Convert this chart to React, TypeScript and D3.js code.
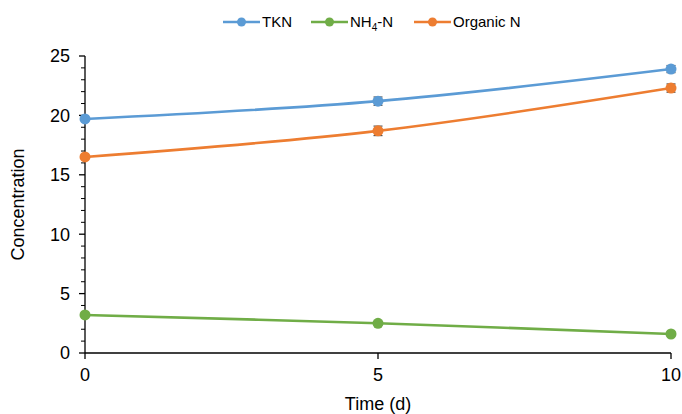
import React from "react";
import * as d3 from "d3";

const days = [0, 5, 10];
const tkn = [19.7, 21.2, 23.9];
const nh4 = [3.2, 2.5, 1.6];
const organicN = [16.5, 18.7, 22.3];
const tknErr = [0, 0.35, 0.3];
const nh4Err = [0, 0.15, 0.15];
const organicErr = [0, 0.4, 0.35];
const xTicks = [0, 5, 10];
const yTicks = [0, 5, 10, 15, 20, 25];
const seriesNames = ["TKN", "NH4-N", "Organic N"];
const colors = ["#5B9BD5", "#70AD47", "#ED7D31"];

const W = 682;
const H = 414;
const FONT = "'Liberation Sans', Arial, sans-serif";

export default function App() {
  const x = d3.scaleLinear().domain([0, 10]).range([85, 671]);
  const y = d3.scaleLinear().domain([0, 25]).range([353, 56]);
  const line = d3
    .line<[number, number]>()
    .x((d) => x(d[0]))
    .y((d) => y(d[1]))
    .curve(d3.curveCatmullRom.alpha(0));

  const series = [
    { name: seriesNames[0], values: tkn, err: tknErr, color: colors[0] },
    { name: seriesNames[1], values: nh4, err: nh4Err, color: colors[1] },
    { name: seriesNames[2], values: organicN, err: organicErr, color: colors[2] },
  ];

  const minorY = d3.range(0, 26, 1).filter((v) => v % 5 !== 0);
  const legendX = [223, 311, 414];

  return (
    <svg
      width={W}
      height={H}
      style={{ position: "absolute", left: 0, top: 0, background: "#fff" }}
      fontFamily={FONT}
    >
      {/* y axis */}
      <line x1={x(0)} x2={x(0)} y1={y(25)} y2={y(0)} stroke="#000" strokeWidth={1.3} />
      {yTicks.map((t) => (
        <g key={"yt" + t}>
          <line x1={x(0) - 6} x2={x(0)} y1={y(t)} y2={y(t)} stroke="#000" strokeWidth={1.3} />
          <text x={x(0) - 15} y={y(t)} dy="0.35em" textAnchor="end" fontSize={18} fill="#000">
            {t}
          </text>
        </g>
      ))}
      {minorY.map((t) => (
        <line key={"ym" + t} x1={x(0) - 4} x2={x(0)} y1={y(t)} y2={y(t)} stroke="#000" strokeWidth={1} />
      ))}
      {/* x axis */}
      <line x1={x(0)} x2={x(10)} y1={y(0)} y2={y(0)} stroke="#000" strokeWidth={1.3} />
      {xTicks.map((t) => (
        <g key={"xt" + t}>
          <line x1={x(t)} x2={x(t)} y1={y(0)} y2={y(0) + 6} stroke="#000" strokeWidth={1.3} />
          <text x={x(t)} y={y(0) + 28} textAnchor="middle" fontSize={18} fill="#000">
            {t}
          </text>
        </g>
      ))}
      <text x={x(5)} y={410} textAnchor="middle" fontSize={18} fill="#000">
        Time (d)
      </text>
      <text
        transform={`translate(24,${(y(0) + y(25)) / 2}) rotate(-90)`}
        textAnchor="middle"
        fontSize={18}
        fill="#000"
      >
        Concentration
      </text>

      {/* series */}
      {series.map((s) => {
        const pts = days.map((d, i) => [d, s.values[i]] as [number, number]);
        return (
          <g key={s.name}>
            <path d={line(pts) || ""} fill="none" stroke={s.color} strokeWidth={2.6} />
            {pts.map((p, i) =>
              s.err[i] > 0 ? (
                <g key={"e" + i} stroke="#555" strokeWidth={1.2}>
                  <line x1={x(p[0])} x2={x(p[0])} y1={y(p[1] - s.err[i])} y2={y(p[1] + s.err[i])} />
                  <line x1={x(p[0]) - 4.5} x2={x(p[0]) + 4.5} y1={y(p[1] - s.err[i])} y2={y(p[1] - s.err[i])} />
                  <line x1={x(p[0]) - 4.5} x2={x(p[0]) + 4.5} y1={y(p[1] + s.err[i])} y2={y(p[1] + s.err[i])} />
                </g>
              ) : null
            )}
            {pts.map((p, i) => (
              <circle key={"m" + i} cx={x(p[0])} cy={y(p[1])} r={5.5} fill={s.color} />
            ))}
          </g>
        );
      })}

      {/* legend */}
      {series.map((s, i) => (
        <g key={"lg" + i} transform={`translate(${legendX[i]},22)`}>
          <line x1={0} x2={37} y1={0} y2={0} stroke={s.color} strokeWidth={2.6} />
          <circle cx={18.5} cy={0} r={4.5} fill={s.color} />
          <text x={39} y={0} dy="0.35em" fontSize={15} fill="#000">
            {i === 1 ? (
              <>
                NH
                <tspan fontSize={10} dy="4">4</tspan>
                <tspan dy="-4">-N</tspan>
              </>
            ) : (
              s.name
            )}
          </text>
        </g>
      ))}
    </svg>
  );
}
